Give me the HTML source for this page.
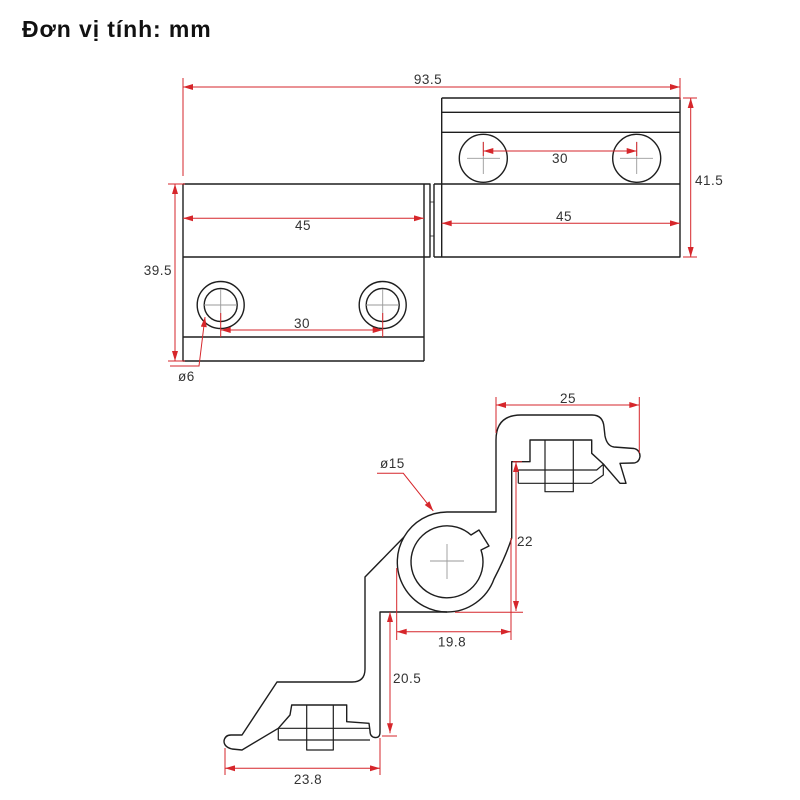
<!DOCTYPE html>
<html>
<head>
<meta charset="utf-8">
<style>
html,body{margin:0;padding:0;background:#fff;}
body{width:800px;height:800px;overflow:hidden;position:relative;}
.title{position:absolute;left:22px;top:14px;font-family:"Liberation Sans",sans-serif;font-weight:bold;font-size:23px;letter-spacing:0.9px;color:#111;line-height:30px;white-space:nowrap;}
svg{position:absolute;left:0;top:0;}
.k{stroke:#1e1e1e;stroke-width:1.4;fill:none;stroke-linejoin:round;}
.g{stroke:#9a9a9a;stroke-width:0.9;fill:none;}
.r{stroke:#d6262b;stroke-width:1;fill:none;}
.t{font-family:"Liberation Sans",sans-serif;font-size:13.5px;fill:#333;letter-spacing:0.5px;}
</style>
</head>
<body>
<div class="title">Đơn vị tính: mm</div>
<svg width="800" height="800" viewBox="0 0 800 800" xmlns="http://www.w3.org/2000/svg">
<defs>
<marker id="a" viewBox="0 0 10 6" refX="10" refY="3" markerWidth="11" markerHeight="6" markerUnits="userSpaceOnUse" orient="auto-start-reverse">
<path d="M0,0 L10,3 L0,6 z" fill="#d6262b"/>
</marker>
</defs>

<!-- ===== TOP VIEW ===== -->
<path class="k" d="M183,184 L430,184 L430,257 L183,257 M424,184 L424,361 M183,184 L183,361 L424,361 M183,337 L424,337"/>
<path class="k" d="M434,184 L434,257" />
<path class="k" d="M430,202 L434,202 M430,236 L434,236" style="stroke-width:0.8"/>
<path class="k" d="M441.7,98 L680,98 L680,257 L434,257 M441.7,98 L441.7,257 M441.7,112.3 L680,112.3 M441.7,132.3 L680,132.3 M434,184 L680,184"/>
<circle class="k" cx="483.3" cy="158.3" r="24"/>
<circle class="k" cx="636.7" cy="158.3" r="24"/>
<path class="g" d="M467,158.3 L500,158.3 M483.3,141.7 L483.3,174 M620,158.3 L653,158.3 M636.7,141.7 L636.7,174"/>
<circle class="k" cx="220.7" cy="305" r="23.5"/>
<circle class="k" cx="220.7" cy="305" r="16.5"/>
<circle class="k" cx="382.7" cy="305" r="23.5"/>
<circle class="k" cx="382.7" cy="305" r="16.5"/>
<path class="g" d="M204,305 L237,305 M220.7,289 L220.7,321 M366,305 L399,305 M382.7,289 L382.7,321"/>

<path class="r" d="M183,87 L680,87" marker-start="url(#a)" marker-end="url(#a)"/>
<path class="r" d="M183,78 L183,176 M680,78 L680,100"/>
<text class="t" x="428" y="84" text-anchor="middle">93.5</text>

<path class="r" d="M690.7,98 L690.7,257" marker-start="url(#a)" marker-end="url(#a)"/>
<path class="r" d="M683,98 L697,98 M683,257 L697,257"/>
<text class="t" x="695" y="185">41.5</text>

<path class="r" d="M483.3,151 L636.7,151" marker-start="url(#a)" marker-end="url(#a)"/>
<path class="r" d="M483.3,142 L483.3,156 M636.7,142 L636.7,156"/>
<text class="t" x="560" y="163" text-anchor="middle">30</text>

<path class="r" d="M441.7,223.3 L680,223.3" marker-start="url(#a)" marker-end="url(#a)"/>
<text class="t" x="564" y="221" text-anchor="middle">45</text>

<path class="r" d="M183,218.3 L424,218.3" marker-start="url(#a)" marker-end="url(#a)"/>
<text class="t" x="303" y="230" text-anchor="middle">45</text>

<path class="r" d="M220.7,330 L382.7,330" marker-start="url(#a)" marker-end="url(#a)"/>
<path class="r" d="M220.7,313 L220.7,337 M382.7,313 L382.7,337"/>
<text class="t" x="302" y="328" text-anchor="middle">30</text>

<path class="r" d="M175,184 L175,361" marker-start="url(#a)" marker-end="url(#a)"/>
<path class="r" d="M168,184 L185,184 M168,361 L185,361"/>
<text class="t" x="172" y="275" text-anchor="end">39.5</text>

<path class="r" d="M170,366 L199,366 L205,317" marker-end="url(#a)"/>
<text class="t" x="178" y="381">ø6</text>

<!-- ===== PROFILE VIEW ===== -->
<path class="k" d="M231,735 L242,735 L277,682 L352,682 Q365,682 365,669 L365,577 L404,537 A50,50 0 0 1 447,512 L496,512 L496,440 Q496,415 521,415 L592,415 Q603,415 604,427 L605,436 Q607,446 614,447 L634,448.5 Q640,450 640,456.5 Q639,463 633,463 L620,463.3 L626,483.3 L620,483.3 L603.3,464 L591.7,453.3 L591.7,440 L530,440 L530,461.7 L511.7,461.7 L511.7,538 Q506,556 494,579 A50,50 0 0 1 447,612 L380,612 L380,732 Q380,738 375,737.5 Q370,737 370,731 L369,723.3 L346.7,721.7 L346.7,705 L291.7,705 L290,715 L278.3,728.3 L242,750 L232,749 Q224,747 224,741 Q225,735 231,735 Z"/>
<path class="k" d="M447,612 A50,50 0 0 1 404,537"/>
<path class="k" d="M471,535 L479,530 L489,546 L481,550 A36,36 0 1 1 471,535 Z"/>
<path class="g" d="M430,561 L464,561 M447,544 L447,579"/>
<path class="k" d="M545,440 L545,491.7 L573.3,491.7 L573.3,440 M518.3,470 L596.7,470 L603.3,464.3 M518.3,483.3 L591.7,483.3 L603.3,475 L603.3,464.3 M518.3,470 L518.3,483.3" style="stroke-width:1.2"/>
<path class="k" d="M278.3,728.3 L370,728.3 M278.3,740 L370,740 M278.3,728.3 L278.3,740 M306.7,705 L306.7,750 L333.3,750 L333.3,705" style="stroke-width:1.2"/>

<path class="r" d="M496,405 L639.3,405" marker-start="url(#a)" marker-end="url(#a)"/>
<path class="r" d="M496,397 L496,433 M639.3,397 L639.3,453"/>
<text class="t" x="568" y="403" text-anchor="middle">25</text>

<path class="r" d="M377,473.3 L403.3,473.3 L433.3,511" marker-end="url(#a)"/>
<text class="t" x="380" y="468">ø15</text>

<path class="r" d="M516,462 L516,611" marker-start="url(#a)" marker-end="url(#a)"/>
<path class="r" d="M455,612.3 L523,612.3 M513,461.7 L522,461.7"/>
<text class="t" x="517" y="546">22</text>

<path class="r" d="M396.7,631.7 L511,631.7" marker-start="url(#a)" marker-end="url(#a)"/>
<path class="r" d="M396.7,568 L396.7,640 M511,538 L511,640"/>
<text class="t" x="452" y="646.5" text-anchor="middle">19.8</text>

<path class="r" d="M390,612 L390,733.3" marker-start="url(#a)" marker-end="url(#a)"/>
<path class="r" d="M382,736 L397,736"/>
<text class="t" x="393" y="683">20.5</text>

<path class="r" d="M225,768.3 L380,768.3" marker-start="url(#a)" marker-end="url(#a)"/>
<path class="r" d="M225,748 L225,775 M380,738 L380,775"/>
<text class="t" x="308" y="784" text-anchor="middle">23.8</text>
</svg>
</body>
</html>
